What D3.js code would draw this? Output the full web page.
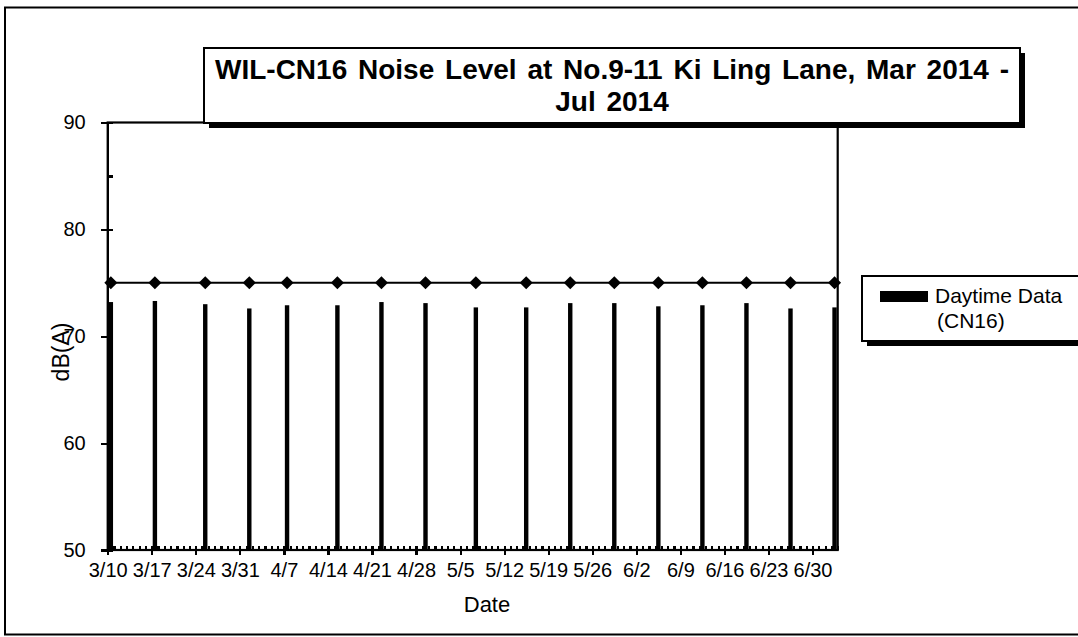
<!doctype html>
<html>
<head>
<meta charset="utf-8">
<title>WIL-CN16 Noise Level</title>
<script src="https://cdn.jsdelivr.net/npm/d3@7"></script>
<style>
  body { margin: 0; background: #fff; }
  svg { display: block; font-family: "Liberation Sans", Arial, sans-serif; }
  .axis path, .axis line { stroke: #000; stroke-width: 2.2; shape-rendering: crispEdges; }
</style>
</head>
<body>
<script>
// measurement dates (bars + limit markers)
var dates = ["2014-03-10", "2014-03-17", "2014-03-25", "2014-04-01", "2014-04-07",
             "2014-04-15", "2014-04-22", "2014-04-29", "2014-05-07", "2014-05-15",
             "2014-05-22", "2014-05-29", "2014-06-05", "2014-06-12", "2014-06-19",
             "2014-06-26", "2014-07-03"];
// daytime Leq, dB(A)
var daytime = [73.2, 73.3, 73.0, 72.6, 72.9, 72.9, 73.2, 73.1, 72.7, 72.7,
               73.1, 73.1, 72.8, 72.9, 73.1, 72.6, 72.7];
// limit level
var limit = [75, 75, 75, 75, 75, 75, 75, 75, 75, 75, 75, 75, 75, 75, 75, 75, 75];
var xTickLabels = ["3/10", "3/17", "3/24", "3/31", "4/7", "4/14", "4/21", "4/28", "5/5",
                   "5/12", "5/19", "5/26", "6/2", "6/9", "6/16", "6/23", "6/30"];
var yTicks = [50, 60, 70, 80, 90];
var yMinorTicks = [50, 55, 60, 65, 70, 75, 80, 85, 90];
var xDomain = ["2014-03-10", "2014-07-04"];

var W = 1078, H = 637;
var plot = {left: 107.7, right: 837.7, top: 122.5, bottom: 550};

var parseDay = d3.timeParse("%Y-%m-%d");
var parseLabel = function(s) { return d3.timeParse("%m/%d/%Y")(s + "/2014"); };

var svg = d3.select("body").append("svg")
    .attr("width", W)
    .attr("height", H);

// outer frame
svg.append("rect")
    .attr("x", 5).attr("y", 7.5)
    .attr("width", 1090).attr("height", 627)
    .attr("fill", "#fff").attr("stroke", "#000").attr("stroke-width", 2);

var x = d3.scaleTime()
    .domain(xDomain.map(parseDay))
    .range([plot.left, plot.right]);
var y = d3.scaleLinear()
    .domain([50, 90])
    .range([plot.bottom, plot.top]);

var halfDay = (x(parseDay("2014-03-11")) - x(parseDay("2014-03-10"))) / 2;

// plot border
svg.append("rect")
    .attr("x", plot.left).attr("y", plot.top)
    .attr("width", plot.right - plot.left).attr("height", plot.bottom - plot.top)
    .attr("fill", "none").attr("stroke", "#000").attr("stroke-width", 2.2);

var data = dates.map(function(d, i) {
  return {date: parseDay(d), value: daytime[i], limit: limit[i]};
});

// bars
svg.selectAll(".bar")
    .data(data)
    .enter().append("rect")
    .attr("class", "bar")
    .attr("x", function(d) { return x(d.date) + halfDay - 2.2; })
    .attr("width", 4.4)
    .attr("y", function(d) { return y(d.value); })
    .attr("height", function(d) { return y(50) - y(d.value); })
    .attr("fill", "#000");

// limit line with diamonds
var line = d3.line()
    .x(function(d) { return x(d.date) + halfDay; })
    .y(function(d) { return y(d.limit); });
svg.append("path")
    .datum(data)
    .attr("d", line)
    .attr("fill", "none")
    .attr("stroke", "#000")
    .attr("stroke-width", 2);
svg.selectAll(".mark")
    .data(data)
    .enter().append("path")
    .attr("class", "mark")
    .attr("d", d3.symbol().type(d3.symbolSquare).size(85))
    .attr("transform", function(d) {
      return "translate(" + (x(d.date) + halfDay) + "," + y(d.limit) + ") rotate(45)";
    })
    .attr("fill", "#000");

function styleLabels(g) {
  g.attr("font-family", "Liberation Sans, Arial, sans-serif")
   .attr("font-size", 20);
  g.selectAll("text").attr("fill", "#000");
}

// x axis: daily minor ticks inside, weekly major ticks crossing
svg.append("g")
    .attr("class", "axis")
    .attr("transform", "translate(0," + plot.bottom + ")")
    .call(d3.axisBottom(x).ticks(d3.timeDay.every(1)).tickSize(-4).tickFormat(""))
    .call(function(g) { g.select(".domain").remove(); });
svg.append("g")
    .attr("class", "axis")
    .attr("transform", "translate(0," + plot.bottom + ")")
    .call(d3.axisBottom(x)
      .tickValues(xTickLabels.map(parseLabel))
      .tickSizeInner(5).tickSizeOuter(0).tickPadding(8)
      .tickFormat(function(d, i) { return xTickLabels[i]; }))
    .call(styleLabels)
    .call(function(g) { g.select(".domain").attr("d", "M" + plot.left + ",0H" + plot.right); });

// y axis
svg.append("g")
    .attr("class", "axis")
    .attr("transform", "translate(" + plot.left + ",0)")
    .call(d3.axisLeft(y).tickValues(yMinorTicks).tickSize(-5).tickFormat(""))
    .call(function(g) { g.select(".domain").remove(); });
svg.append("g")
    .attr("class", "axis")
    .attr("transform", "translate(" + plot.left + ",0)")
    .call(d3.axisLeft(y).tickValues(yTicks).tickSizeInner(7).tickSizeOuter(0).tickPadding(15))
    .call(styleLabels)
    .call(function(g) { g.select(".domain").attr("d", "M0," + plot.top + "V" + plot.bottom); });

// axis titles
svg.append("text")
    .attr("x", 487).attr("y", 612)
    .attr("text-anchor", "middle")
    .style("font-size", "22px")
    .text("Date");
svg.append("text")
    .attr("transform", "translate(69,352) rotate(-90)")
    .attr("text-anchor", "middle")
    .style("font-size", "23px")
    .text("dB(A)");

// title box
var tb = {x: 204, y: 48, w: 816, h: 75};
svg.append("rect")
    .attr("x", tb.x + 5).attr("y", tb.y + 5)
    .attr("width", tb.w).attr("height", tb.h)
    .attr("fill", "#000");
svg.append("rect")
    .attr("x", tb.x).attr("y", tb.y)
    .attr("width", tb.w).attr("height", tb.h)
    .attr("fill", "#fff").attr("stroke", "#000").attr("stroke-width", 2);
var title = svg.append("text")
    .attr("text-anchor", "middle")
    .style("font-size", "28px")
    .style("font-weight", "bold")
    .style("word-spacing", "3px");
title.append("tspan").attr("x", 612).attr("y", 79)
    .text("WIL-CN16 Noise Level at No.9-11 Ki Ling Lane, Mar 2014 -");
title.append("tspan").attr("x", 612).attr("y", 111)
    .text("Jul 2014");

// legend
var lg = {x: 862, y: 276, w: 240, h: 65};
svg.append("rect")
    .attr("x", lg.x + 5).attr("y", lg.y + 5)
    .attr("width", lg.w).attr("height", lg.h)
    .attr("fill", "#000");
svg.append("rect")
    .attr("x", lg.x).attr("y", lg.y)
    .attr("width", lg.w).attr("height", lg.h)
    .attr("fill", "#fff").attr("stroke", "#000").attr("stroke-width", 2);
svg.append("rect")
    .attr("x", 880).attr("y", 291)
    .attr("width", 48).attr("height", 11)
    .attr("fill", "#000");
var lt = svg.append("text").style("font-size", "21px");
lt.append("tspan").attr("x", 935).attr("y", 303).text("Daytime Data");
lt.append("tspan").attr("x", 937).attr("y", 328).text("(CN16)");
</script>
</body>
</html>
